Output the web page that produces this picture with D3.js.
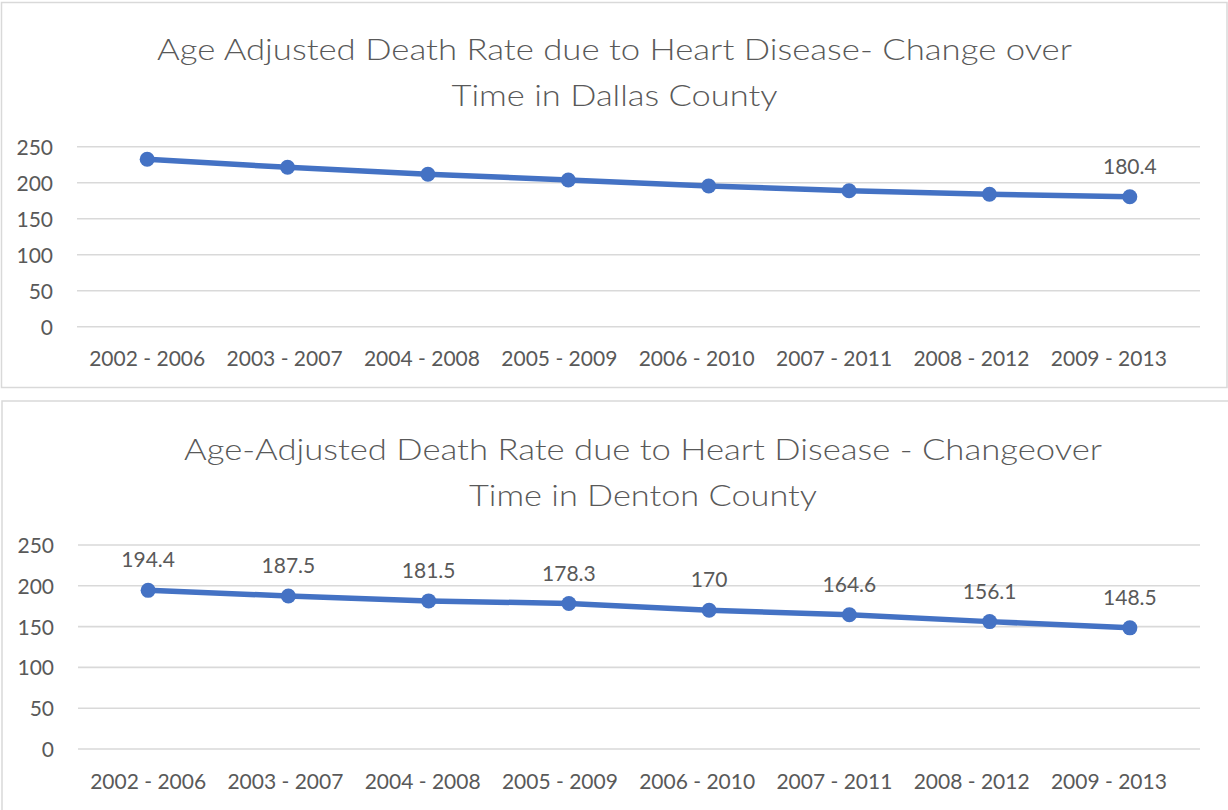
<!doctype html>
<html lang='en'>
<head>
    <meta charset='UTF-8'>
    <title>Heart Disease Death Rate</title>
    <style>
        body {
            margin: 0;
            background: #fff;
        }

        text {
            font-family: Lato, 'Open Sans', sans-serif;
            fill: #595959;
        }

        .title {
            font-size: 30px;
            font-weight: 300;
        }

        .tick text, .label {
            font-size: 21px;
        }
    </style>
</head>
<body>

<script src='https://d3js.org/d3.v7.min.js'></script>
<script>
  const periods = ['2002 - 2006', '2003 - 2007', '2004 - 2008', '2005 - 2009',
    '2006 - 2010', '2007 - 2011', '2008 - 2012', '2009 - 2013']

  const dallasRates = [232.5, 221.4, 211.7, 203.8, 195.4, 188.9, 183.9, 180.4]
  const dentonRates = [194.4, 187.5, 181.5, 178.3, 170, 164.6, 156.1, 148.5]

  const yTicks = [0, 50, 100, 150, 200, 250]

  const dallasTitle = ['Age Adjusted Death Rate due to Heart Disease- Change over', 'Time in Dallas County']
  const dentonTitle = ['Age-Adjusted Death Rate due to Heart Disease - Changeover', 'Time in Denton County']

  const W = 1228, H = 810

  const svg = d3.select('body').append('svg')
    .attr('width', W)
    .attr('height', H)

  // one chart panel
  function drawPanel(opts) {
    const g = svg.append('g')

    g.append('rect')
      .attr('x', opts.box[0])
      .attr('y', opts.box[1])
      .attr('width', opts.box[2])
      .attr('height', opts.box[3])
      .attr('fill', 'none')
      .attr('stroke', '#d9d9d9')
      .attr('stroke-width', 1.5)

    g.selectAll('text.title')
      .data(opts.title)
      .enter()
      .append('text')
      .attr('class', 'title')
      .attr('x', opts.titleX)
      .attr('y', (d, i) => opts.titleY + i * 46)
      .attr('text-anchor', 'middle')
      .attr('textLength', (d, i) => opts.titleLen[i])
      .attr('lengthAdjust', 'spacingAndGlyphs')
      .text(d => d)

    const x = d3.scalePoint()
      .domain(periods)
      .range([opts.left, opts.right])
      .padding(0.5)

    // category labels sit a little tighter than the markers in the original
    const xLab = d3.scalePoint()
      .domain(periods)
      .range([opts.left + 1, opts.right - 23])
      .padding(0.5)

    const y = d3.scaleLinear()
      .domain([0, 250])
      .range([opts.bottom, opts.top])

    // grid
    g.append('g')
      .selectAll('line')
      .data(yTicks)
      .enter()
      .append('line')
      .attr('x1', opts.left)
      .attr('x2', opts.right)
      .attr('y1', d => y(d))
      .attr('y2', d => y(d))
      .attr('stroke', '#d9d9d9')
      .attr('stroke-width', 1.6)

    //// Axis ////
    const yAxis = g.append('g')
      .attr('transform', `translate(${opts.left - 24}, 0)`)
      .call(d3.axisLeft(y)
        .tickValues(yTicks)
        .tickSize(0)
        .tickPadding(0))
    yAxis.select('.domain').remove()
    yAxis.selectAll('text').attr('dy', '0.36em')

    const xAxis = g.append('g')
      .attr('transform', `translate(0, ${opts.bottom})`)
      .call(d3.axisBottom(xLab)
        .tickSize(0)
        .tickPadding(0))
    xAxis.select('.domain').remove()
    xAxis.selectAll('text').attr('dy', null).attr('y', opts.xLabelY - opts.bottom)

    const line = d3.line()
      .x((d, i) => x(periods[i]))
      .y(d => y(d))

    g.append('path')
      .datum(opts.values)
      .attr('d', line)
      .attr('fill', 'none')
      .attr('stroke', '#4472c4')
      .attr('stroke-width', 5.5)
      .attr('stroke-linejoin', 'round')

    g.selectAll('circle')
      .data(opts.values)
      .enter()
      .append('circle')
      .attr('cx', (d, i) => x(periods[i]))
      .attr('cy', d => y(d))
      .attr('r', 7.5)
      .attr('fill', '#4472c4')

    g.selectAll('text.label')
      .data(opts.values.map((v, i) => ({ v, i })).filter(d => opts.labelAll || d.i === opts.values.length - 1))
      .enter()
      .append('text')
      .attr('class', 'label')
      .attr('x', d => x(periods[d.i]))
      .attr('y', d => y(d.v) - 23)
      .attr('text-anchor', 'middle')
      .text(d => d.v)
  }

  drawPanel({
    box: [1.5, 2.5, 1225.5, 385],
    title: dallasTitle,
    titleX: 614.5,
    titleY: 60,
    titleLen: [915, 326],
    left: 77, right: 1200,
    top: 146.7, bottom: 326.7,
    xLabelY: 366,
    values: dallasRates,
    labelAll: false
  })

  drawPanel({
    box: [2, 401, 1240, 420],
    title: dentonTitle,
    titleX: 643,
    titleY: 460,
    titleLen: [918, 348],
    left: 78, right: 1200,
    top: 545, bottom: 749,
    xLabelY: 789,
    values: dentonRates,
    labelAll: true
  })
</script>
</body>
</html>
